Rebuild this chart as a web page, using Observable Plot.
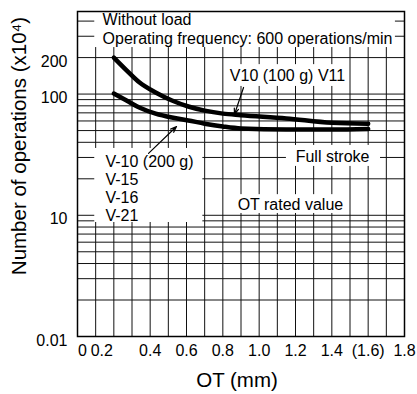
<!DOCTYPE html>
<html><head><meta charset="utf-8">
<script src="https://cdn.jsdelivr.net/npm/d3@7"></script>
<script src="https://cdn.jsdelivr.net/npm/@observablehq/plot@0.6"></script>
<style>
  html,body{margin:0;padding:0;background:#fff}
  #chart svg{display:block}
</style>
</head><body><div id="chart"></div>
<script>
// ---- data ----
const otMm    = [0.2, 0.27, 0.34, 0.43, 0.52, 0.61, 0.7, 0.8, 0.9, 1.15, 1.4, 1.6];
const ops100g = [200, 157, 125, 103, 88.5, 79, 73, 69, 67, 63, 58, 57];
const ops200g = [101, 88.5, 77.5, 69, 64, 60.6, 57, 54, 52, 51, 51, 51.5];

const xTicks      = [0, 0.2, 0.4, 0.6, 0.8, 1.0, 1.2, 1.4, 1.6, 1.8];
const xTickLabels = ["0", "0.2", "0.4", "0.6", "0.8", "1.0", "1.2", "1.4", "(1.6)", "1.8"];
const yTicks      = [1, 10, 50, 100, 200];
const yTickLabels = ["0.01", "10", "50", "100", "200"];

const xGrid = [0.1, 0.2, 0.3, 0.4, 0.5, 0.6, 0.7, 0.8, 0.9, 1.0, 1.1, 1.2, 1.3, 1.4, 1.5, 1.6, 1.7];
const yGrid = [1, 2, 3, 4, 5, 6, 7, 8, 9, 10, 20, 30, 40, 50, 60, 70, 80, 90, 100, 200, 300, 400];

// annotation texts (anchored in data coordinates)
const headerLines = ["Without load", "Operating frequency: 600 operations/min"];
const headerY     = [413, 288];
const modelList   = "V-10 (200 g)\nV-15\nV-16\nV-21";
const centerNotes = ["V10 (100 g) V11", "Full stroke", "OT rated value"];
const centerX     = [1.156, 1.404, 1.172];
const centerY     = [142, 30.6, 12.3];

// white label backgrounds (data coordinates)
const boxX1 = [0.095, 0.82, 0.095, 1.15, 0.87];
const boxX2 = [1.75, 1.49, 0.69, 1.668, 1.47];
const boxY1 = [242, 115.6, 8.72, 25.3, 10.35];
const boxY2 = [480, 175, 35.6, 37.7, 14.8];

// leader arrows
const arrowX1 = [0.914, 0.391];
const arrowY1 = [113.4, 32.4];
const arrowX2 = [0.864, 0.545];
const arrowY2 = [67.9, 54];

// ---- build tables ----
const curve100 = otMm.map((x, i) => ({x, y: ops100g[i]}));
const curve200 = otMm.map((x, i) => ({x, y: ops200g[i]}));
const boxes = boxX1.map((x1, i) => ({x1, x2: boxX2[i], y1: boxY1[i], y2: boxY2[i]}));
const arrows = arrowX1.map((x1, i) => ({x1, y1: arrowY1[i], x2: arrowX2[i], y2: arrowY2[i]}));
const header = headerLines.map((t, i) => ({t, x: 0.138, y: headerY[i]}));
const notes = centerNotes.map((t, i) => ({t, x: centerX[i], y: centerY[i]}));
const xLab = new Map(xTicks.map((d, i) => [d, xTickLabels[i]]));
const yLab = new Map(yTicks.map((d, i) => [d, yTickLabels[i]]));

const grid = "#111";
const chart = Plot.plot({
  width: 417,
  height: 394,
  marginLeft: 77,
  marginRight: 13,
  marginTop: 11,
  marginBottom: 58,
  style: {fontFamily: "'Liberation Sans', Arial, sans-serif", fontSize: "16px", background: "#fff", color: "#000"},
  x: {domain: [0, 1.8]},
  y: {type: "log", domain: [1, 480]},
  marks: [
    Plot.ruleY(yGrid, {stroke: grid, strokeWidth: 1}),
    Plot.ruleX(xGrid, {stroke: grid, strokeWidth: 1}),
    Plot.rect(boxes, {x1: "x1", x2: "x2", y1: "y1", y2: "y2", fill: "#fff"}),
    Plot.frame({stroke: "#000", strokeWidth: 1.5}),
    Plot.line(curve100, {x: "x", y: "y", curve: "monotone-x", stroke: "#000", strokeWidth: 4.5}),
    Plot.line(curve200, {x: "x", y: "y", curve: "monotone-x", stroke: "#000", strokeWidth: 4.5}),
    Plot.arrow(arrows, {x1: "x1", y1: "y1", x2: "x2", y2: "y2", stroke: "#000", strokeWidth: 1.2, headLength: 8, headAngle: 40}),
    Plot.text(header, {x: "x", y: "y", text: "t", textAnchor: "start", fontSize: 16, fill: "#000"}),
    Plot.text([modelList], {x: () => 0.154, y: () => 16.6, text: d => d, textAnchor: "start", lineHeight: 1.12, fontSize: 16, fill: "#000"}),
    Plot.text(notes, {x: "x", y: "y", text: "t", textAnchor: "middle", fontSize: 16, fill: "#000"}),
    Plot.axisY(yTicks, {tickSize: 0, tickPadding: 10, dy: 4, fontSize: 16, label: null, tickFormat: d => yLab.get(d)}),
    Plot.axisX([xTicks[0]], {tickSize: 0, tickPadding: 8, dx: 5, fontSize: 16, label: null, tickFormat: d => xLab.get(d)}),
    Plot.axisX([xTicks[1]], {tickSize: 0, tickPadding: 8, dx: -12, fontSize: 16, label: null, tickFormat: d => xLab.get(d)}),
    Plot.axisX(xTicks.slice(2), {tickSize: 0, tickPadding: 8, fontSize: 16, label: null, tickFormat: d => xLab.get(d)}),
    Plot.text(["OT (mm)"], {text: d => d, frameAnchor: "bottom", textAnchor: "middle", lineAnchor: "middle", dy: 44, dx: -4, fontSize: 20.5, fill: "#000"}),
    Plot.text(["Number of operations (x10\u2074)"], {text: d => d, frameAnchor: "left", textAnchor: "middle", lineAnchor: "middle", rotate: -90, dx: -58, dy: -28, fontSize: 20.5, fill: "#000"})
  ]
});
document.getElementById("chart").appendChild(chart);
</script>
</body></html>
